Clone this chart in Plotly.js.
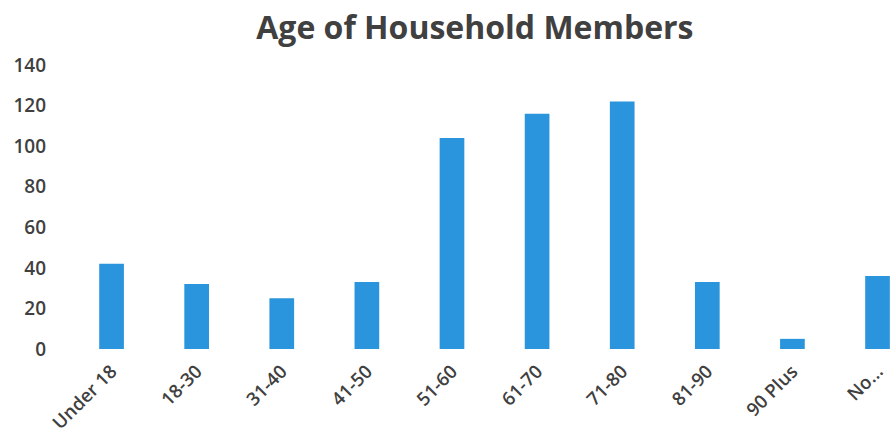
<!DOCTYPE html>
<html>
<head>
<meta charset="utf-8">
<script src="https://cdn.plot.ly/plotly-3.0.1.min.js"></script>
<style>html,body{margin:0;padding:0;background:#fff;overflow:hidden;}</style>
</head>
<body>
<div id="chart" style="width:896px;height:441px;"></div>
<script>
const chartTitle = "Age of Household Members";
const categories = ["Under 18", "18-30", "31-40", "41-50", "51-60", "61-70", "71-80", "81-90", "90 Plus", "No..."];
const members = [42, 32, 25, 33, 104, 116, 122, 33, 5, 36];
const yTicks = [0, 20, 40, 60, 80, 100, 120, 140];

const textColor = "#404040";
const fontFam = "'Open Sans', 'Liberation Sans', sans-serif";

Plotly.newPlot("chart", [{
  type: "bar",
  x: categories,
  y: members,
  marker: {color: "#2a94dc"},
  hoverinfo: "x+y"
}], {
  width: 896,
  height: 441,
  margin: {l: 69, r: 0, t: 65, b: 92},
  paper_bgcolor: "#ffffff",
  plot_bgcolor: "#ffffff",
  bargap: 0.71,
  showlegend: false,
  title: {
    text: chartTitle,
    font: {family: fontFam, size: 32, color: textColor, weight: 700},
    xref: "container", x: 0.530, xanchor: "center",
    yref: "container", y: 0.938, yanchor: "middle"
  },
  xaxis: {
    type: "category",
    range: [-0.5, 9.217],
    tickangle: -45,
    showgrid: false,
    showline: false,
    zeroline: false,
    ticks: "",
    ticklabelstandoff: 7,
    tickfont: {family: fontFam, size: 18.5, color: textColor, weight: 600}
  },
  yaxis: {
    range: [0, 140],
    tickvals: yTicks,
    ticktext: yTicks.map(String),
    showgrid: false,
    showline: false,
    zeroline: false,
    ticks: "",
    ticklabelstandoff: 22,
    tickfont: {family: fontFam, size: 19, color: textColor, weight: 600}
  }
}, {displayModeBar: false, staticPlot: true});
</script>
</body>
</html>
